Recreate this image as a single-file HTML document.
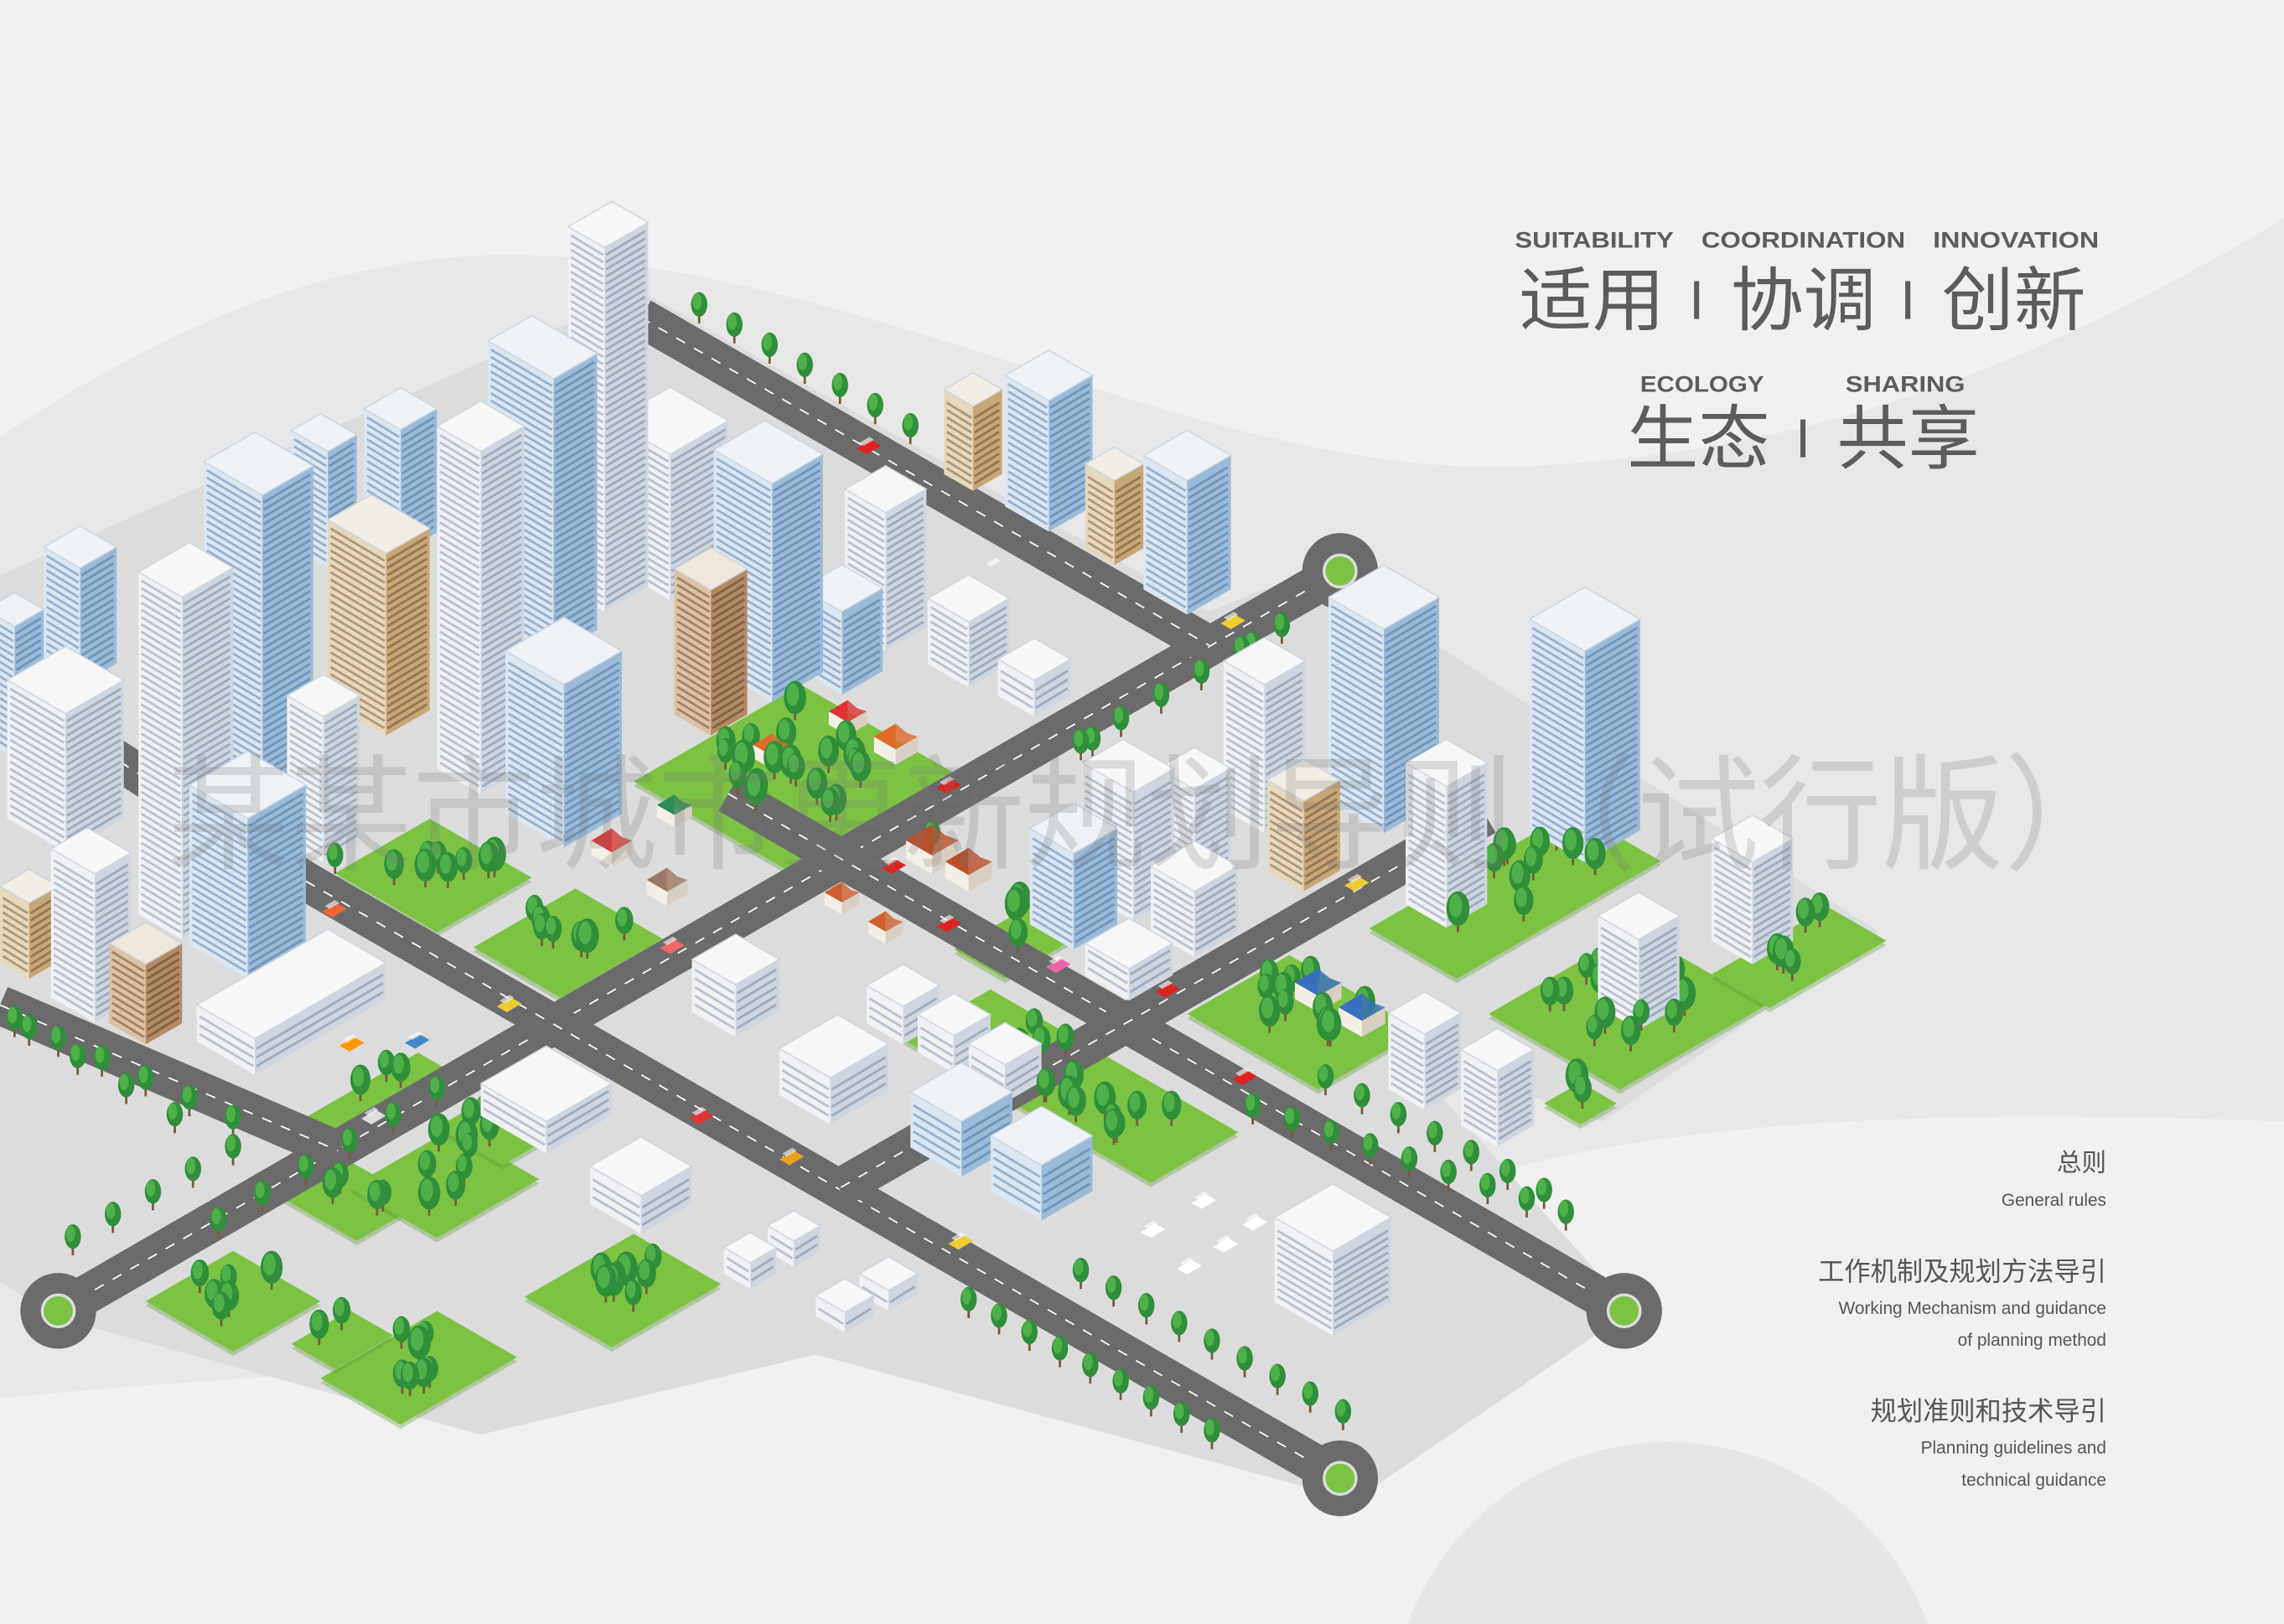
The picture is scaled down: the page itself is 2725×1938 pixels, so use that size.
<!DOCTYPE html>
<html><head><meta charset="utf-8">
<style>
html,body{margin:0;padding:0;background:#efefef;width:2725px;height:1938px;overflow:hidden;position:relative;}
svg{display:block;position:absolute;left:0;top:0;}
.en{font-family:"Liberation Sans",sans-serif;font-weight:bold;fill:#5c5c5c;}
.cn{font-family:"Liberation Sans","Noto Sans CJK SC",sans-serif;fill:#5c5c5c;}
.rt{font-family:"Liberation Sans","Noto Sans CJK SC",sans-serif;fill:#555;text-anchor:end;}
</style></head>
<body>
<svg id="s" xmlns="http://www.w3.org/2000/svg" width="2725" height="1938" viewBox="0 0 1568 1115" preserveAspectRatio="none">
<rect x="0" y="0" width="1568" height="1115" fill="#f0f0f0"/>
<path d="M0,300 C150,200 280,160 420,180 C650,210 850,330 1050,320 C1250,310 1400,250 1568,150 L1568,770 C1300,760 1100,770 950,830 C800,890 600,930 400,935 C250,940 100,950 0,960 Z" fill="#e7e7e7"/>
<circle cx="1145" cy="1180" r="190" fill="#e5e5e5"/>
<g id="ground"></g>
<g id="greens"></g>
<g id="roads"></g>
<g id="city"></g>
<text class="cn" x="115" y="590" font-size="86" style="fill:#777" opacity="0.22" textLength="1345" lengthAdjust="spacingAndGlyphs">某某市城市更新规划导则（试行版）</text>
<text class="en" x="1040" y="170" font-size="15.5" textLength="109" lengthAdjust="spacingAndGlyphs">SUITABILITY</text>
<text class="en" x="1168" y="170" font-size="15.5" textLength="140" lengthAdjust="spacingAndGlyphs">COORDINATION</text>
<text class="en" x="1327" y="170" font-size="15.5" textLength="114" lengthAdjust="spacingAndGlyphs">INNOVATION</text>
<text class="cn" x="1043" y="223" font-size="48" textLength="100" lengthAdjust="spacingAndGlyphs">适用</text>
<rect x="1163" y="193" width="3.5" height="26" fill="#5c5c5c"/>
<text class="cn" x="1188" y="223" font-size="48" textLength="100" lengthAdjust="spacingAndGlyphs">协调</text>
<rect x="1308" y="193" width="3.5" height="26" fill="#5c5c5c"/>
<text class="cn" x="1333" y="223" font-size="48" textLength="99" lengthAdjust="spacingAndGlyphs">创新</text>
<text class="en" x="1126" y="269" font-size="15.5" textLength="85" lengthAdjust="spacingAndGlyphs">ECOLOGY</text>
<text class="en" x="1267" y="269" font-size="15.5" textLength="82" lengthAdjust="spacingAndGlyphs">SHARING</text>
<text class="cn" x="1117" y="318" font-size="48" textLength="98" lengthAdjust="spacingAndGlyphs">生态</text>
<rect x="1236" y="288" width="3.5" height="26" fill="#5c5c5c"/>
<text class="cn" x="1261" y="318" font-size="48" textLength="98" lengthAdjust="spacingAndGlyphs">共享</text>
<text class="rt" x="1446" y="804" font-size="17">总则</text>
<text class="rt" x="1446" y="828" font-size="12">General rules</text>
<text class="rt" x="1446" y="879" font-size="18">工作机制及规划方法导引</text>
<text class="rt" x="1446" y="902" font-size="12">Working Mechanism and guidance</text>
<text class="rt" x="1446" y="924" font-size="12">of planning method</text>
<text class="rt" x="1446" y="975" font-size="18">规划准则和技术导引</text>
<text class="rt" x="1446" y="998" font-size="12">Planning guidelines and</text>
<text class="rt" x="1446" y="1020" font-size="12">technical guidance</text>
</svg>
<script>
(function(){
var NS='http://www.w3.org/2000/svg';
function el(t,a,p){var e=document.createElementNS(NS,t);for(var k in a)e.setAttribute(k,a[k]);p.appendChild(e);return e;}
var G=document.getElementById('ground'),GR=document.getElementById('greens'),R=document.getElementById('roads'),C=document.getElementById('city');
var K=0.577;
function pts(a){return a.map(function(p){return p[0].toFixed(1)+','+p[1].toFixed(1)}).join(' ');}
el('polygon',{points:'0,395 440,200 830,420 905,390 1290,640 1100,770 960,720 1120,900 930,1030 560,930 330,985 40,905 0,880',fill:'#dcdcdc'},G);
function dia(x,y,a,b){return [[x,y],[x-a,y-a*K],[x-a+b,y-(a+b)*K],[x+b,y-b*K]];}
var greens=[[300,640,70,65],[385,685,60,70],[545,600,110,115],[790,812,170,60],[1000,672,60,140],[1112,748,90,100],[1215,692,40,80],[1085,772,25,25],[905,748,90,70],[160,928,60,60],[245,852,55,45],[300,850,60,70],[275,978,55,80],[420,925,60,75],[230,940,30,40],[345,800,45,45],[215,785,18,90],[690,672,35,55]];
greens.forEach(function(g){el('polygon',{points:pts(dia(g[0],g[1]+3,g[2],g[3])),fill:'#5e9c34',opacity:'0.35'},GR);el('polygon',{points:pts(dia(g[0],g[1],g[2],g[3])),fill:'#7cc243'},GR);});
function road(x1,y1,x2,y2){el('line',{x1:x1,y1:y1,x2:x2,y2:y2,stroke:'#6b6b6b','stroke-width':27},R);el('line',{x1:x1,y1:y1,x2:x2,y2:y2,stroke:'#fff','stroke-width':1,'stroke-dasharray':'7 7'},R);}
function rb(x,y){el('circle',{cx:x,cy:y,r:26,fill:'#6b6b6b'},R);el('circle',{cx:x,cy:y,r:11,fill:'#7cc243',stroke:'#ddd','stroke-width':2},R);}
road(920,392,40,900);road(210,605,920,1015);road(500,545,1115,900);road(440,218,830,443);road(1020,560,576,816);road(0,690,232,790);road(0,470,210,605);
rb(920,392);rb(40,900);rb(920,1015);rb(1115,900);
var items=[];
var pal={b:['#eef2f6','#dce6f1','#9bbad8','#5f86b0'],w:['#f7f7f7','#f0f0f2','#d0d6df','#8a9bb3'],y:['#f1ede5','#e6d8bd','#c7a775','#7f6245'],r:['#efe6dc','#dcc2a4','#b48a63','#6f5139']};
function B(x,y,a,b,h,c){items.push({y:y,f:function(){var p=pal[c];
 var P=[x,y],L=[x-a,y-a*K],Rr=[x+b,y-b*K],Bk=[x-a+b,y-(a+b)*K];
 function up(q){return [q[0],q[1]-h];}
 el('polygon',{points:pts([P,L,up(L),up(P)]),fill:p[1]},C);
 el('polygon',{points:pts([P,Rr,up(Rr),up(P)]),fill:p[2]},C);
 var st=h>40?5:6;
 for(var k=st;k<h-3;k+=st){
  el('line',{x1:x-1,y1:y-k,x2:x-a+2,y2:y-a*K-k+1,stroke:p[3],'stroke-width':1.6,opacity:0.55},C);
  el('line',{x1:x+1,y1:y-k,x2:x+b-2,y2:y-b*K-k+1,stroke:p[3],'stroke-width':1.6,opacity:0.7},C);}
 el('polygon',{points:pts([up(P),up(L),up(Bk),up(Rr)]),fill:p[0],stroke:'#c9d3de','stroke-width':0.8},C);
}});}
function H(x,y,s,col){items.push({y:y,f:function(){var a=s,b=s,h=s*0.7;var P=[x,y],L=[x-a,y-a*K],Rr=[x+b,y-b*K];
 el('polygon',{points:pts([P,L,[L[0],L[1]-h],[P[0],P[1]-h]]),fill:'#f4efe6'},C);
 el('polygon',{points:pts([P,Rr,[Rr[0],Rr[1]-h],[P[0],P[1]-h]]),fill:'#d8cfc2'},C);
 var t=[x-a/2+b/2,y-h-(a+b)*K/2-s*0.6];
 el('polygon',{points:pts([[P[0],P[1]-h],[L[0],L[1]-h],t]),fill:col},C);
 el('polygon',{points:pts([[P[0],P[1]-h],[Rr[0],Rr[1]-h],[Rr[0]-a/2,t[1]+b*K/2+2],t]),fill:col,opacity:0.8},C);}});}
function T(x,y,r){r=r||7;items.push({y:y,f:function(){el('line',{x1:x,y1:y,x2:x,y2:y-6,stroke:'#7a5a3a','stroke-width':1.6},C);el('ellipse',{cx:x,cy:y-6-r,rx:r*0.8,ry:r*1.2,fill:'#2f8f3a'},C);el('ellipse',{cx:x-1.5,cy:y-8-r,rx:r*0.45,ry:r*0.8,fill:'#4fb04a'},C);}});}
function Car(x,y,c){items.push({y:y,f:function(){el('polygon',{points:pts([[x,y],[x-7,y-4],[x+3,y-10],[x+10,y-6]]),fill:c},C);el('polygon',{points:pts([[x-2,y-6],[x-5,y-8],[x+2,y-12],[x+5,y-10]]),fill:'#fff',opacity:0.6},C);}});}
[[415,420,25,30,250,'w'],[380,450,45,30,190,'b'],[330,545,30,30,235,'w'],[275,380,25,25,85,'b'],[225,390,25,20,80,'b'],[180,560,40,35,220,'b'],[265,505,40,30,125,'y'],[125,645,30,35,235,'w'],[55,470,25,25,80,'b'],[45,585,40,40,95,'w'],[10,520,20,20,90,'b'],[170,672,40,40,110,'b'],[222,592,25,25,100,'w'],[387,582,40,40,112,'b'],[460,412,40,40,100,'w'],[530,482,40,35,150,'b'],[488,505,25,25,100,'r'],[608,447,28,28,95,'w'],[578,477,28,28,57,'b'],[665,472,28,28,45,'w'],[710,492,25,25,25,'w'],[668,337,20,20,58,'y'],[720,365,30,30,90,'b'],[765,388,20,20,58,'y'],[815,422,30,30,92,'b'],[65,702,30,25,102,'w'],[100,717,25,25,55,'r'],[20,672,20,20,52,'y'],[175,738,40,90,25,'w'],
[868,572,28,28,102,'w'],[950,572,38,38,140,'b'],[1088,592,38,38,145,'b'],[820,622,25,25,80,'w'],[778,632,35,28,88,'w'],[895,612,25,25,62,'y'],[737,652,30,30,66,'b'],[820,657,30,30,45,'w'],[775,687,30,30,22,'w'],[993,637,28,28,97,'w'],[1203,662,28,28,70,'w'],[1125,707,28,28,62,'w'],[978,762,25,25,52,'w'],[1028,787,25,25,52,'w'],
[505,712,30,30,36,'w'],[570,772,35,40,32,'w'],[620,717,25,25,26,'w'],[655,737,25,25,26,'w'],[690,757,25,25,26,'w'],[660,808,35,35,38,'b'],[715,838,35,35,38,'b'],[375,792,45,45,22,'w'],[440,847,35,35,26,'w'],[915,917,40,40,58,'w'],[515,885,18,18,18,'w'],[545,870,18,18,18,'w'],[580,915,20,20,14,'w'],[610,900,20,20,14,'w']
].forEach(function(b){B.apply(null,b);});
[[420,595,14,'#d93a3a'],[458,622,14,'#9a7a66'],[463,568,12,'#2e8a5a'],[530,528,13,'#e06a2a'],[582,505,13,'#d33'],[615,525,15,'#e06a2a'],[640,600,18,'#b8502a'],[665,612,16,'#b8502a'],[578,628,12,'#d06030'],[608,648,12,'#d06030'],[905,695,16,'#3a6fc0'],[935,712,16,'#3a6fc0']].forEach(function(h){H(h[0],h[1],h[2],h[3]);});
function row(x1,y1,x2,y2,n,r){for(var i=0;i<n;i++){var t=n==1?0:i/(n-1);T(x1+(x2-x1)*t,y1+(y2-y1)*t,r);}}
row(480,222,625,305,7);row(880,442,742,522,6);row(860,455,640,585,3);row(160,800,50,862,5);row(10,712,160,780,6);
row(665,905,832,995,9);row(742,885,922,982,9);row(860,772,1075,845,9);row(910,752,1060,830,7);row(300,760,150,850,6);
row(150,640,230,600,3);row(20,718,120,778,4);
var seed=7;function rnd(){seed=(seed*9301+49297)%233280;return seed/233280;}
greens.forEach(function(g){var n=Math.max(2,Math.round(g[2]*g[3]/600));for(var j=0;j<n;j++){var s=0.15+0.7*rnd(),t=0.15+0.7*rnd();var x=g[0]-s*g[2]+t*g[3],y=g[1]-(s*g[2]+t*g[3])*K;T(x,y,7+rnd()*3);}});
[[595,312,'#d22'],[682,395,'#ddd'],[845,432,'#ec3'],[650,545,'#d22'],[612,600,'#d22'],[650,640,'#d22'],[460,655,'#e66'],[348,695,'#ec3'],[228,630,'#e63'],[480,772,'#d33'],[542,800,'#e9a020'],[658,858,'#ec3'],[725,668,'#e6a'],[800,685,'#d22'],[853,745,'#d22'],[930,612,'#ec3'],[240,722,'#f90'],[285,720,'#48c'],[255,772,'#ddd'],[790,850,'#fff'],[815,875,'#fff'],[840,860,'#fff'],[825,830,'#fff'],[860,845,'#fff']].forEach(function(c){Car(c[0],c[1],c[2]);});
items.sort(function(a,b){return a.y-b.y;});
items.forEach(function(it){it.f();});
})();
</script>
</body></html>
